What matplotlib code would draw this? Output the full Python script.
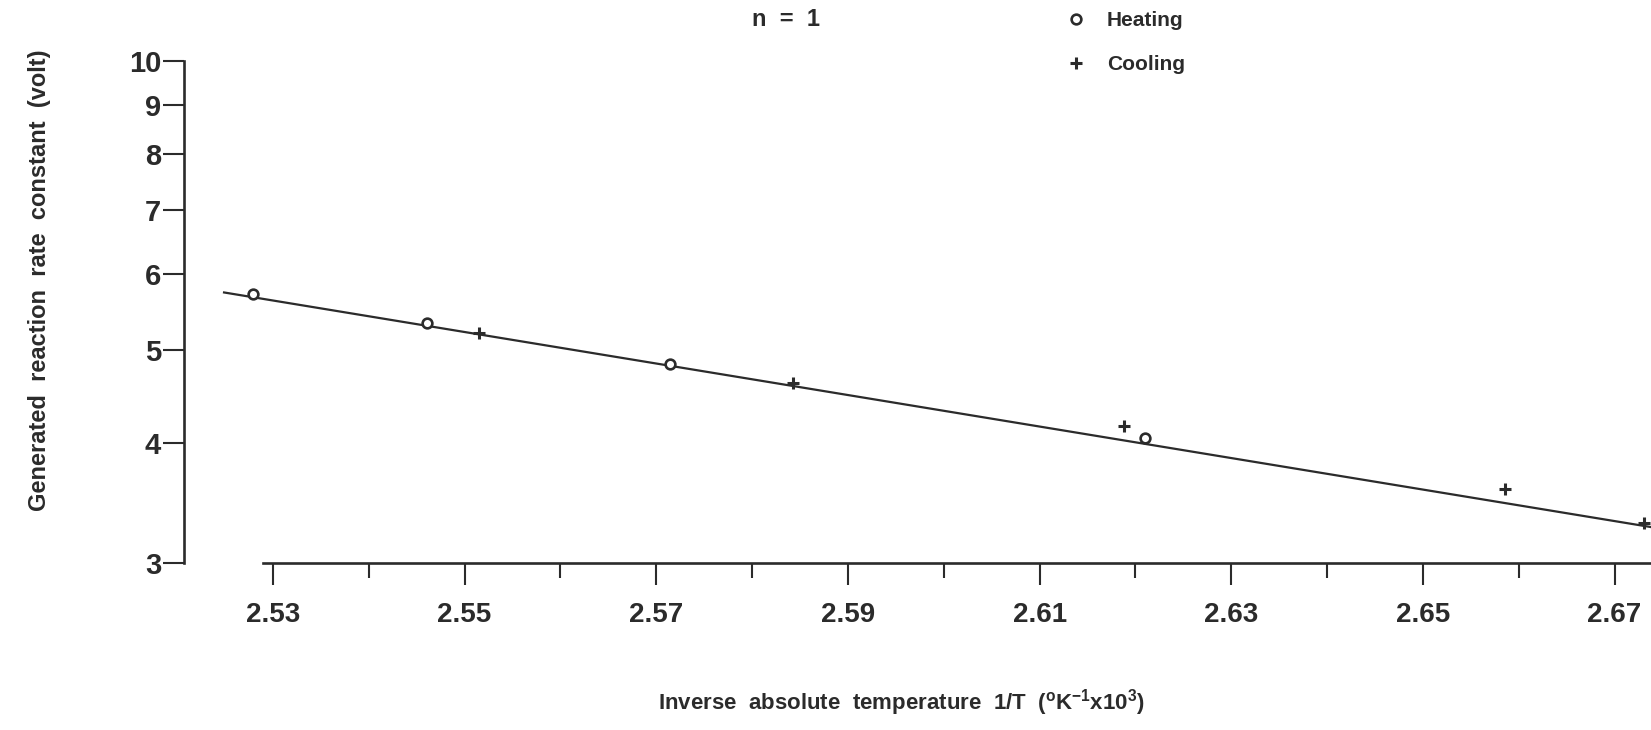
import matplotlib
matplotlib.use("Agg")
import matplotlib.pyplot as plt
import numpy as np

plt.rcParams['font.family'] = ['Liberation Sans', 'DejaVu Sans']
plt.rcParams['mathtext.default'] = 'regular'

INK = '#2b2b2b'

# data
heat_x = [2.5279, 2.5461, 2.5714, 2.6210]
heat_y = [5.72, 5.33, 4.84, 4.05]
cool_x = [2.5515, 2.5843, 2.6188, 2.6586, 2.6731]
cool_y = [5.21, 4.62, 4.17, 3.58, 3.30]
fit_x = [2.5249, 2.6738]
fit_y = [5.74, 3.27]

x_major = [2.53, 2.55, 2.57, 2.59, 2.61, 2.63, 2.65, 2.67]
x_minor = [2.54, 2.56, 2.58, 2.60, 2.62, 2.64, 2.66]
y_ticks = [3, 4, 5, 6, 7, 8, 9, 10]

fig = plt.figure(figsize=(16.51, 7.30), dpi=100)
ax = fig.add_axes([184 / 1651, 167 / 730, 1 - 184 / 1651, 502 / 730])

ax.plot(fit_x, fit_y, color=INK, lw=1.6, clip_on=False, zorder=2)
ax.plot(heat_x, heat_y, 'o', ms=7, mfc='white', mec=INK, mew=1.9,
        ls='none', label='Heating', clip_on=False, zorder=3)
ax.plot(cool_x, cool_y, '+', ms=9, mec=INK, mew=2.2,
        ls='none', label='Cooling', clip_on=False, zorder=3)

ax.set_yscale('log')
ax.set_ylim(3, 10)
ax.set_xlim(2.52072, 2.6738)

ax.set_yticks(y_ticks)
ax.set_yticklabels([str(v) for v in y_ticks])
ax.yaxis.set_minor_locator(matplotlib.ticker.NullLocator())
ax.set_xticks(x_major)
ax.set_xticklabels(['%.2f' % v for v in x_major])
ax.set_xticks(x_minor, minor=True)

for s in ['top', 'right']:
    ax.spines[s].set_visible(False)
for s in ['left', 'bottom']:
    ax.spines[s].set_linewidth(1.9)
    ax.spines[s].set_color(INK)
ax.spines['left'].set_bounds(3, 10)
ax.spines['bottom'].set_bounds(2.529, 2.6738)

ax.tick_params(axis='y', which='major', direction='out', length=15, width=1.5,
               pad=1.5, labelsize=21, colors=INK)
ax.tick_params(axis='x', which='major', direction='out', length=16, width=1.5,
               pad=12, labelsize=20, colors=INK)
ax.tick_params(axis='x', which='minor', direction='out', length=11, width=1.5,
               colors=INK)
for lab in ax.get_yticklabels() + ax.get_xticklabels():
    lab.set_fontweight('bold')

fig.text(40 / 1651, 1 - 280 / 730,
         'Generated  reaction  rate  constant  (volt)',
         rotation=90, ha='center', va='center', fontsize=17,
         fontweight='bold', color=INK)
fig.text(901 / 1651, 1 - 703 / 730,
         r'Inverse  absolute  temperature  1/T  ($^{o}$K$^{-1}$x10$^{3}$)',
         ha='center', va='center', fontsize=16, fontweight='bold', color=INK)
fig.text(786 / 1651, 1 - 20 / 730, 'n  =  1', ha='center', va='center',
         fontsize=17, fontweight='bold', color=INK)

fig.legend(loc='upper left', bbox_to_anchor=(1066 / 1651, 1 - 11 / 730),
           frameon=False, borderpad=0, borderaxespad=0, handlelength=1.0,
           handletextpad=0.95, labelspacing=1.2,
           prop={'size': 15, 'weight': 'bold'}, labelcolor=INK)

fig.savefig('out.png', dpi=100)
